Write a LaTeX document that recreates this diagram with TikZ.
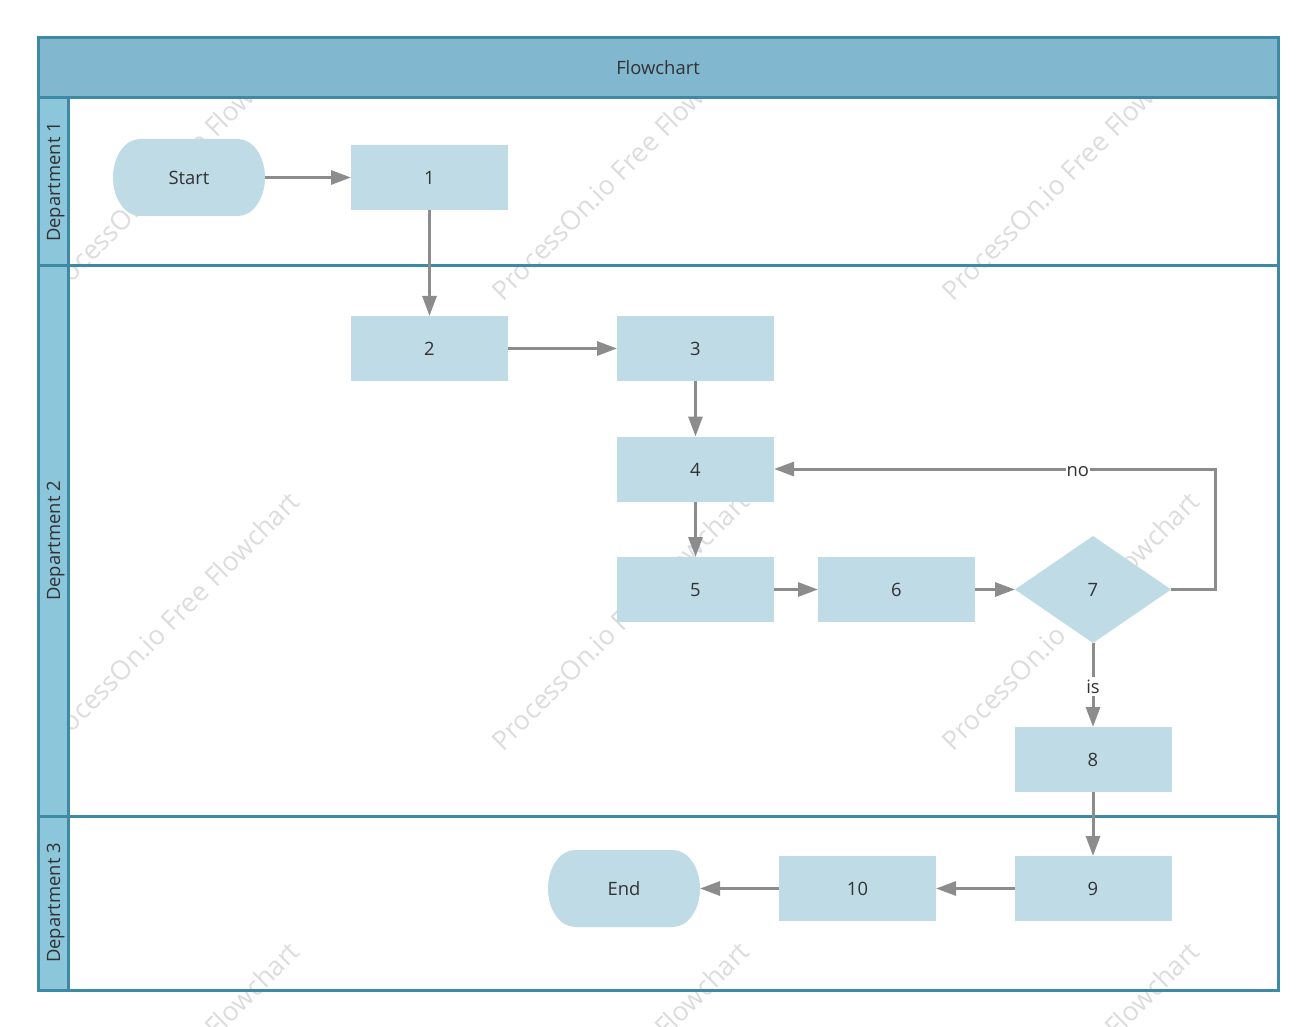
\documentclass[tikz,border=0pt]{standalone}
\usepackage{fontspec}
\setmainfont{Open Sans}
\usetikzlibrary{arrows.meta}
\usetikzlibrary{shapes.geometric}

\definecolor{headfill}{RGB}{130,184,207}
\definecolor{stripfill}{RGB}{140,198,219}
\definecolor{laneline}{RGB}{62,138,165}
\definecolor{nodefill}{RGB}{190,219,230}
\definecolor{flowgray}{RGB}{140,140,140}
\definecolor{inkgray}{RGB}{50,50,50}
\definecolor{wmgray}{RGB}{220,220,220}

\tikzset{
  every node/.style={text=inkgray, font=\fontsize{13.8}{16}\selectfont, inner sep=0pt, outer sep=0pt, text height=10.8pt, text depth=0pt},
  box/.style={fill=nodefill, minimum width=117.75pt, minimum height=48.75pt},
  decision/.style={diamond, fill=nodefill, minimum width=117pt, minimum height=80.25pt},
  terminal/.style={minimum width=114pt, minimum height=57.75pt, path picture={
    \fill[nodefill] (path picture bounding box.west)
      arc[start angle=180, end angle=90, x radius=20.25pt, y radius=28.875pt] -- ++(73.5pt,0pt)
      arc[start angle=90, end angle=-90, x radius=20.25pt, y radius=28.875pt] -- ++(-73.5pt,0pt)
      arc[start angle=-90, end angle=-180, x radius=20.25pt, y radius=28.875pt] -- cycle;
  }},
  flow/.style={draw=flowgray, line width=2.25pt, -{Triangle[length=15pt, width=10.5pt]}},
  edgelabel/.style={fill=white, inner xsep=0.75pt, inner ysep=1.5pt},
  lane/.style={draw=laneline, line width=2.25pt},
  lanelabel/.style={lane, fill=stripfill, rotate=90, minimum height=22.5pt},
  wmark/.style={text=wmgray, rotate=45, anchor=base west, font=\fontsize{20}{22}\selectfont, text height=, text depth=}
}

\begin{document}
\begin{tikzpicture}[x=0.75pt, y=-0.75pt]
  \useasboundingbox (0, 0) rectangle (1315, 1027);

  \begin{scope}
    \clip (0, 0) rectangle (1315, 1027);
    \foreach \wx in {53, 503, 953} {
      \foreach \wy in {302, 752, 1202} {
        \node[wmark] (wm\wx\wy) at (\wx, \wy) {ProcessOn.io Free Flowchart};
      }
    }
  \end{scope}

  % swimlanes
  \node[lane, fill=headfill, minimum width=930pt, minimum height=45pt, text height=9.6pt] (title) at (658, 68) {Flowchart};
  \foreach \ly/\lh/\lname in {98/168/1, 266/550/2, 816/174/3} {
    \draw[lane] (38, \ly) rectangle ++(1240, \lh);
    \node[lanelabel, minimum width=\lh*0.75pt] (dept\lname) at (53, \ly+\lh/2) {Department \lname};
  }

  \node[terminal] (start) at (189, 177.5) {Start};
  \node[box] (n1) at (429.5, 177.5) {1};
  \node[box] (n2) at (429.5, 348.5) {2};
  \node[box] (n3) at (695.5, 348.5) {3};
  \node[box] (n4) at (695.5, 469) {4};
  \node[box] (n5) at (695.5, 589.5) {5};
  \node[box] (n6) at (896.5, 589.5) {6};
  \node[decision] (n7) at (1093, 589.5) {7};
  \node[box] (n8) at (1093, 759.5) {8};
  \node[box] (n9) at (1093, 888.5) {9};
  \node[box] (n10) at (857.5, 888.5) {10};
  \node[terminal] (end) at (624, 888.5) {End};
  \coordinate (turn) at (1215.5, 589.5);

  \draw[flow] (start) -- (n1);
  \draw[flow] (n1) -- (n2);
  \draw[flow] (n2) -- (n3);
  \draw[flow] (n3) -- (n4);
  \draw[flow] (n4) -- (n5);
  \draw[flow] (n5) -- (n6);
  \draw[flow] (n6) -- (n7);
  \draw[flow] (n7.east) -- (turn) |- node[edgelabel, pos=0.656] (no) {no} (n4.east);
  \draw[flow] (n7) -- node[edgelabel, pos=0.52] (is) {is} (n8);
  \draw[flow] (n8) -- (n9);
  \draw[flow] (n9) -- (n10);
  \draw[flow] (n10) -- (end);
\end{tikzpicture}
\end{document}
